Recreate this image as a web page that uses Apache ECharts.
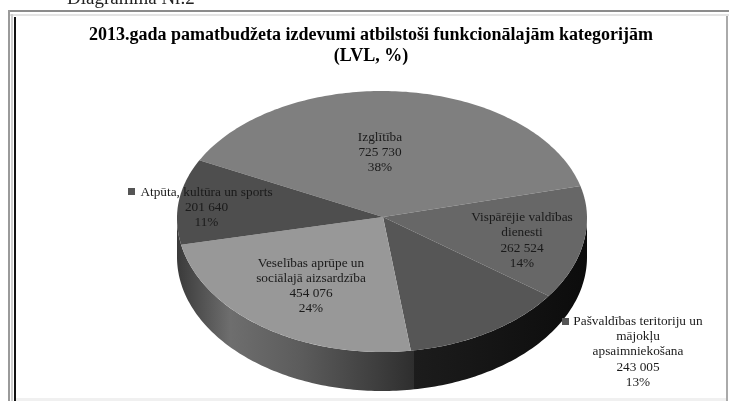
<!DOCTYPE html>
<html><head><meta charset="utf-8">
<style>html,body{margin:0;padding:0;background:#fff}#c{width:729px;height:401px;filter:blur(0.4px)}</style>
<script src="https://cdn.jsdelivr.net/npm/echarts@6/dist/echarts.min.js"></script>
</head><body><div id="c"></div>
<script>
const categories = ['Izglītība','Vispārējie valdības\ndienesti','Pašvaldības teritoriju un\nmājokļu\napsaimniekošana','Veselības aprūpe un\nsociālajā aizsardzība','Atpūta, kultūra un sports'];
const values = [725730,262524,243005,454076,201640];
const valueLabels = ['725 730','262 524','243 005','454 076','201 640'];
const percents = ['38%','14%','13%','24%','11%'];
const topColors = ['#7f7f7f','#676767','#565656','#989898','#4e4e4e'];
const titleText = '2013.gada pamatbudžeta izdevumi atbilstoši funkcionālajām kategorijām\n(LVL, %)';

const layout = {cx:382, cy:218, rx:205, ryTop:127, ryBottom:134, ax:383, ay:217, depth:39, start:-63};
const labelAt = [[380,152.5],[522,240.5],[638,352],[311,286],[206.5,207.5]];
const keyAt = {2:[562,318],4:[128,188]};
const total = values.reduce((a,b)=>a+b,0);
const rim = (deg,dy=0)=>{const r=deg*Math.PI/180,c=Math.cos(r);return [layout.cx+layout.rx*Math.sin(r),layout.cy-(c>0?layout.ryTop:layout.ryBottom)*c+dy];};
let acc = layout.start;
const spans = values.map(v=>{const s=acc;acc+=v/total*360;return [s,acc];});
const arc = (a,b,dy=0)=>{const p=[];const n=Math.max(2,Math.ceil(Math.abs(b-a)));for(let i=0;i<=n;i++)p.push(rim(a+(b-a)*i/n,dy));return p;};
const sideFill = {type:'linear',x:0,y:0,x2:1,y2:0,global:false,colorStops:[
 {offset:0,color:'#3a3a3a'},{offset:0.13,color:'#6e6e6e'},{offset:0.3,color:'#5c5c5c'},{offset:0.5,color:'#3c3c3c'},
 {offset:0.578,color:'#2e2e2e'},{offset:0.579,color:'#1c1c1c'},{offset:1,color:'#0c0c0c'}]};

const chart = echarts.init(document.getElementById('c'),null,{renderer:'canvas'});
const frame=(x,y,w,h,c)=>({type:'rect',silent:true,z:-1,shape:{x,y,width:w,height:h},style:{fill:c}});
chart.setOption({
 animation:false,
 backgroundColor:'#fff',
 title:{text:titleText,left:366,top:20,textAlign:'center',textStyle:{fontFamily:'Liberation Serif',fontWeight:'bold',fontSize:18,lineHeight:21,color:'#000'}},
 graphic:[
  {type:'text',x:67,y:-10,silent:true,style:{text:'Diagramma Nr.2',fontFamily:'Liberation Serif',fontSize:19,fill:'#222'}},
  frame(8,10,721,2,'#8c8c8c'),frame(9,14,720,2,'#e4e4e4'),
  frame(8,10,2,391,'#9a9a9a'),frame(14,17,2,384,'#111'),frame(11,14,2,387,'#cfcfcf'),
  frame(726,16,2,385,'#aaa'),frame(16,398,710,3,'#f0f0f0')
 ],
 series:[{
  type:'custom',coordinateSystem:'none',silent:true,
  data:[values[0]],
  renderItem(){
   const children=[];
   children.push({type:'polygon',shape:{points:arc(90,270).concat(arc(270,90,layout.depth))},style:{fill:sideFill}});
   spans.forEach(([a,b],k)=>{
     children.push({type:'polygon',shape:{points:[[layout.ax,layout.ay]].concat(arc(a,b))},style:{fill:topColors[k]}});
   });
   return {type:'group',children};
  }
 },{
  type:'custom',coordinateSystem:'none',silent:true,z:5,
  data:values,
  renderItem(params){
   const i=params.dataIndex;
   const [x,y]=labelAt[i];
   const text={type:'text',style:{fontFamily:'Liberation Serif',fontSize:13.3,lineHeight:15.3,fill:'#1a1a1a',align:'center',verticalAlign:'middle',
     text:categories[i]+'\n'+valueLabels[i]+'\n'+percents[i],x,y}};
   const key=keyAt[i];
   if(!key) return text;
   return {type:'group',children:[{type:'rect',shape:{x:key[0],y:key[1],width:7,height:7},style:{fill:'#555'}},text]};
  }
 }]
});
</script></body></html>
